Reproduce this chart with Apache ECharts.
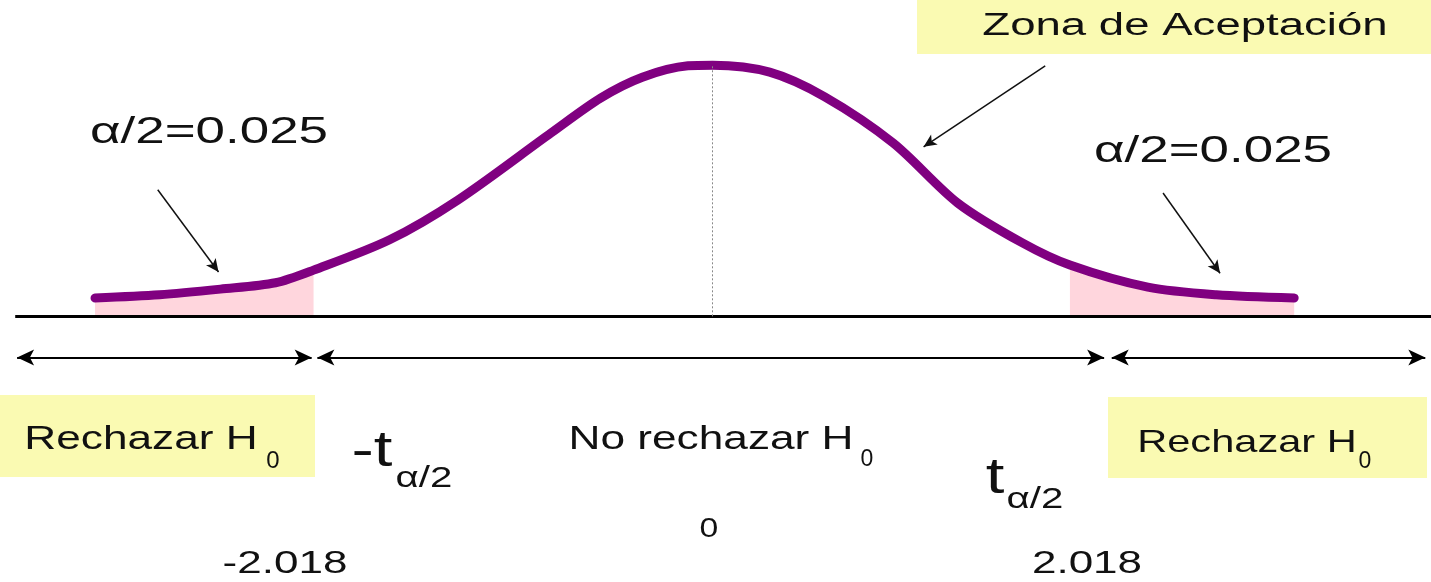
<!DOCTYPE html>
<html>
<head>
<meta charset="utf-8">
<script src="https://cdn.jsdelivr.net/npm/echarts@6/dist/echarts.min.js"></script>
<style>
html, body { margin: 0; padding: 0; background: #fff; }
#main { width: 1431px; height: 582px; }
</style>
</head>
<body>
<div id="main"></div>
<script>
// curva t (x en unidades t, y densidad)
var tVals   = [-3.25, -2.91, -2.59, -2.30, -2.10, -1.70, -1.34, -0.85, -0.59, -0.37, -0.13, 0, 0.30, 0.59, 0.95, 1.29, 1.63, 1.88, 2.29, 2.65, 3.06];
var density = [0.029, 0.034, 0.043, 0.053, 0.073, 0.121, 0.184, 0.290, 0.345, 0.378, 0.396, 0.397, 0.386, 0.347, 0.274, 0.179, 0.116, 0.081, 0.046, 0.034, 0.029];

// limites de las colas sombreadas (como estan dibujadas)
var critLeft = -2.10;
var critRight = 1.88;

// flechas de zonas: rechazar / no rechazar / rechazar
var zoneArrows = [[-3.66, -2.11], [-2.08, 2.06], [2.10, 3.75]];

var tickLabels = ['-2.018', '0', '2.018'];
var alphaLabel = 'α/2=0.025';

var curve = [];
for (var i = 0; i < tVals.length; i++) {
	curve.push([tVals[i], density[i]]);
}
var leftTail = curve.filter(function (p) { return p[0] <= critLeft; });
var rightTail = curve.filter(function (p) { return p[0] >= critRight; });

var peak = Math.max.apply(null, density);
var arrowY = -0.065;
var SMOOTH = 0.3;

var FONT = '"Liberation Sans", Arial, sans-serif';
function txt(s, cx, cy, size, sx) {
	return {
		type: 'text', x: cx, y: cy, scaleX: sx, z: 20,
		style: {
			text: s, x: 0, y: 0, fill: '#111',
			fontSize: size, fontFamily: FONT,
			textAlign: 'center', textVerticalAlign: 'middle',
			align: 'center', verticalAlign: 'middle'
		}
	};
}
function box(x, y, w, h) {
	return { type: 'rect', shape: { x: x, y: y, width: w, height: h }, style: { fill: '#FAFAB2' }, z: 5 };
}

var myChart = echarts.init(document.getElementById('main'));
myChart.setOption({
	animation: false,
	grid: { left: 0, right: 0, top: 0, bottom: 0 },
	xAxis: { type: 'value', min: -3.75, max: 3.78, show: false },
	yAxis: { type: 'value', min: -0.42, max: 0.5, show: false },
	series: [
		{
			type: 'line', data: leftTail, smooth: SMOOTH, symbol: 'none', z: 1, silent: true,
			lineStyle: { width: 0, opacity: 0 },
			areaStyle: { color: '#FFD6DD', opacity: 1 }
		},
		{
			type: 'line', data: rightTail, smooth: SMOOTH, symbol: 'none', z: 1, silent: true,
			lineStyle: { width: 0, opacity: 0 },
			areaStyle: { color: '#FFD6DD', opacity: 1 }
		},
		{
			// eje base y linea punteada central
			type: 'line', data: [], z: 2, silent: true,
			markLine: {
				silent: true, symbol: ['none', 'none'], animation: false,
				label: { show: false },
				data: [
					[{ coord: [-3.67, 0], lineStyle: { color: '#000', width: 3, type: 'solid' } }, { coord: [3.78, 0] }],
					[{ coord: [0, 0], lineStyle: { color: '#888', width: 1, type: [2, 2] } }, { coord: [0, peak] }]
				]
			}
		},
		{
			type: 'line', data: curve, smooth: SMOOTH, symbol: 'none', z: 3, silent: true,
			lineStyle: { color: '#800080', width: 9, cap: 'round', join: 'round' }
		},
		{
			// flechas de zonas
			type: 'line', data: [], z: 4, silent: true,
			markLine: {
				silent: true, symbol: ['arrow', 'arrow'], symbolSize: [12, 17], animation: false,
				label: { show: false },
				lineStyle: { color: '#000', width: 2, type: 'solid' },
				data: zoneArrows.map(function (a) {
					return [{ coord: [a[0], arrowY] }, { coord: [a[1], arrowY] }];
				})
			}
		},
		{
			// flechas de anotaciones
			type: 'line', data: [], z: 4, silent: true,
			markLine: {
				silent: true, symbol: ['none', 'arrow'], symbolSize: [9, 13], animation: false,
				label: { show: false },
				lineStyle: { color: '#111', width: 1.5, type: 'solid' },
				data: [
					[{ coord: [-2.92, 0.200] }, { coord: [-2.60, 0.070] }],
					[{ coord: [2.37, 0.195] }, { coord: [2.67, 0.068] }],
					[{ coord: [1.75, 0.396] }, { coord: [1.11, 0.268] }]
				]
			}
		}
	],
	graphic: [
		box(917, 0, 514, 54),
		box(0, 395, 315, 82),
		box(1108, 397, 319, 81),
		txt('Zona de Aceptación', 1185, 26, 31, 1.47),
		txt(alphaLabel, 209, 133, 36, 1.47),
		txt(alphaLabel, 1213, 152, 36, 1.47),
		txt('Rechazar H', 141, 440, 33, 1.34),
		txt('0', 273, 461, 24, 1.0),
		txt('Rechazar H', 1247, 443, 32, 1.30),
		txt('0', 1365, 462, 23, 1.0),
		txt('No rechazar H', 711, 440, 33, 1.34),
		txt('0', 867, 460, 23, 1.0),
		txt('-t', 372, 452, 50, 1.34),
		txt('α/2', 424, 479, 30, 1.34),
		txt('t', 995, 479, 50, 1.34),
		txt('α/2', 1035, 500, 30, 1.34),
		txt(tickLabels[0], 285, 564, 31, 1.42),
		txt(tickLabels[1], 709, 530, 27, 1.25),
		txt(tickLabels[2], 1087, 564, 31, 1.42)
	]
});
</script>
</body>
</html>
